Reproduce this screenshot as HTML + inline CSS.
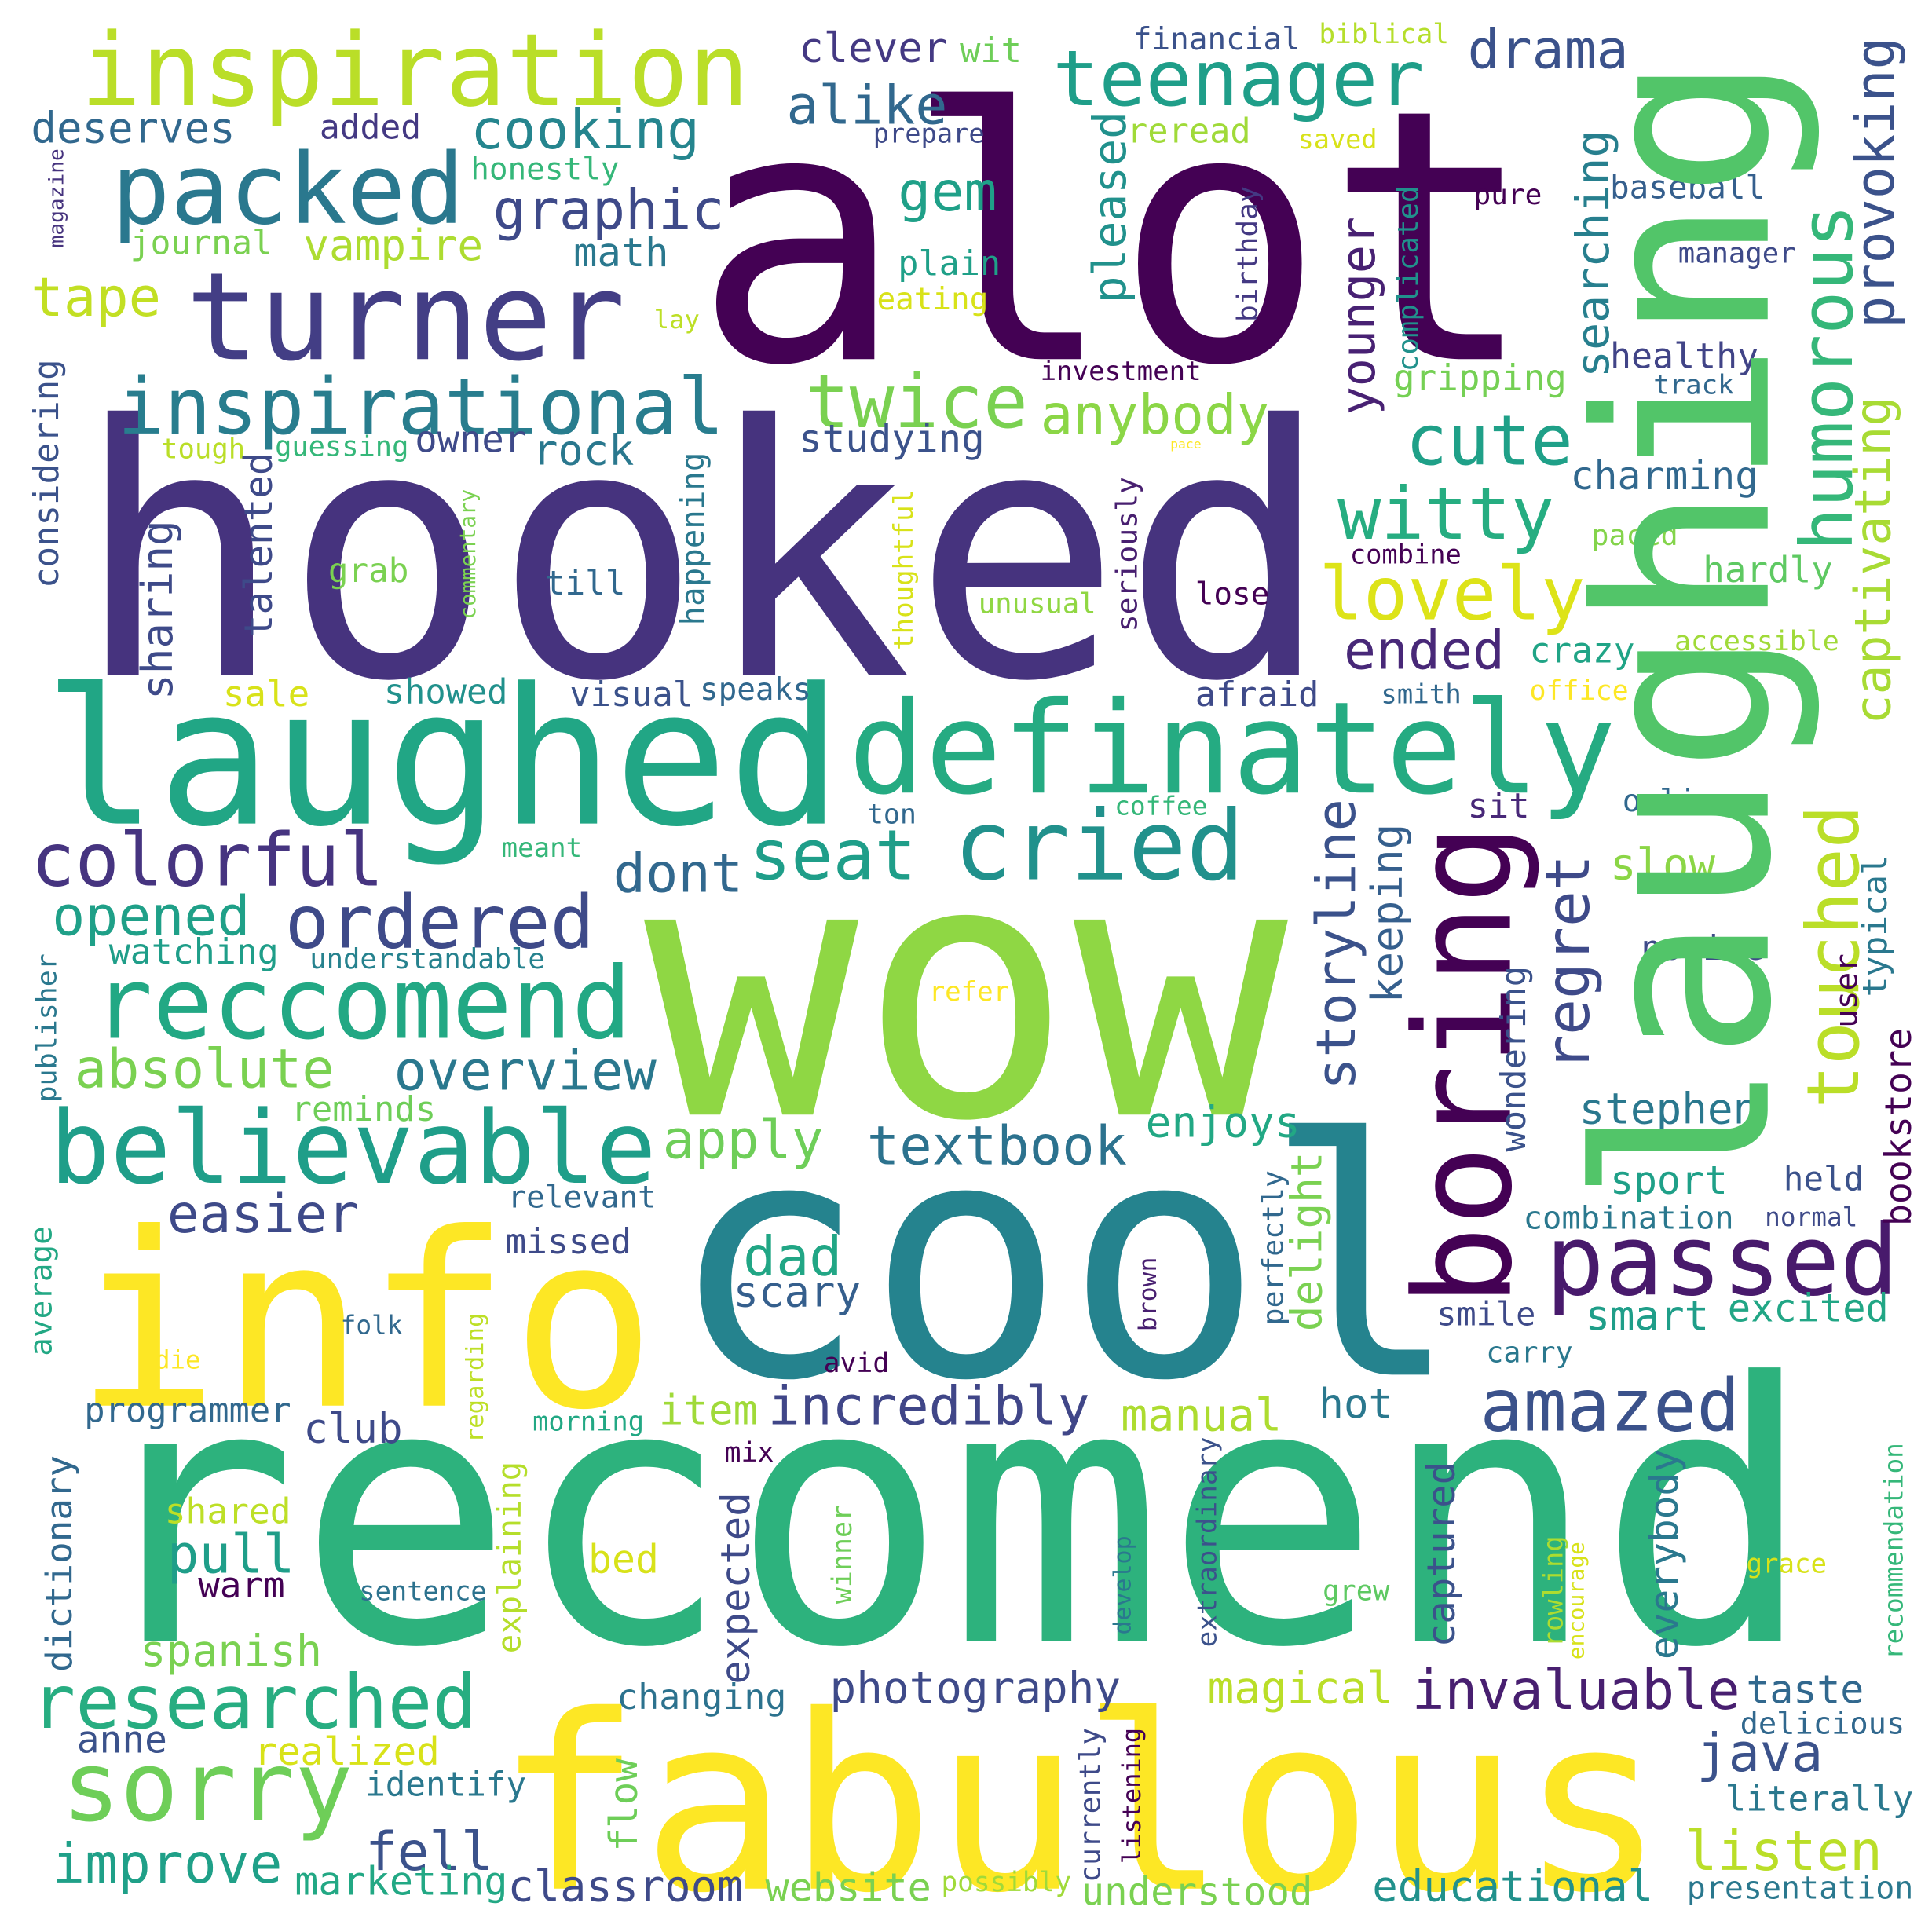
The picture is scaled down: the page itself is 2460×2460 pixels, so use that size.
<!DOCTYPE html>
<html>
<head>
<meta charset="utf-8">
<style>
html,body{margin:0;padding:0;background:#fff;}
svg{display:block;}
text{font-family:"DejaVu Sans Mono","Liberation Mono",monospace;}
</style>
</head>
<body>
<svg id="cloud" width="2460" height="2460" viewBox="0 0 1560 1560" xmlns="http://www.w3.org/2000/svg">
<rect width="1560" height="1560" fill="#fff"/>
</svg>
<script>
// horizontal words: [word, left x, baseline y, width, color]
const hWords = [
["alot",560,290,680,"#440154"],
["hooked",60,545,1015,"#46337e"],
["wow",520,900,520,"#8fd744"],
["cool",540,1110,640,"#25838e"],
["recomend",65,1325,1400,"#2db27d"],
["fabulous",400,1525,945,"#fde725"],
["info",60,1135,470,"#fde725"],
["laughed",35,665,645,"#21a685"],
["definately",685,640,620,"#25ab82"],
["inspiration",65,85,540,"#bade28"],
["packed",90,180,285,"#2a788e"],
["turner",150,290,355,"#433e85"],
["inspirational",95,350,490,"#287d8e"],
["teenager",850,85,300,"#1f9e89"],
["cooking",380,120,185,"#25858e"],
["graphic",398,185,187,"#3e4a89"],
["drama",1185,55,130,"#3b528b"],
["alike",635,100,130,"#31688e"],
["gem",725,170,80,"#1fa088"],
["clever",645,50,120,"#443983"],
["wit",775,50,50,"#6ece58"],
["financial",915,40,135,"#3b528b"],
["biblical",1065,35,105,"#b5de2b"],
["deserves",25,115,165,"#31688e"],
["added",258,112,82,"#443983"],
["prepare",705,115,90,"#3e4a89"],
["reread",910,115,100,"#a0da39"],
["saved",1048,120,64,"#d8e219"],
["honestly",380,145,120,"#35b779"],
["journal",105,205,115,"#7ad151"],
["vampire",245,210,145,"#addc30"],
["math",463,215,77,"#2a788e"],
["plain",725,222,83,"#1fa088"],
["eating",708,250,90,"#d8e219"],
["tape",25,255,105,"#c2df23"],
["lay",528,265,37,"#bddf26"],
["pure",1190,165,55,"#440154"],
["baseball",1300,160,125,"#355f8d"],
["manager",1355,212,95,"#3e4a89"],
["investment",840,307,130,"#440154"],
["healthy",1300,297,120,"#414487"],
["track",1335,318,65,"#31688e"],
["gripping",1125,315,140,"#75d054"],
["twice",650,345,180,"#7ad151"],
["anybody",840,350,185,"#8bd646"],
["cute",1135,375,135,"#1fa088"],
["owner",335,365,90,"#3e4a89"],
["rock",430,375,82,"#2a788e"],
["studying",645,365,150,"#3b528b"],
["guessing",222,368,108,"#35b779"],
["tough",130,370,68,"#bade28"],
["pace",945,362,25,"#fde725"],
["charming",1268,395,152,"#31688e"],
["witty",1080,435,175,"#26ad81"],
["paced",1285,440,70,"#84d44b"],
["combine",1090,455,90,"#440154"],
["grab",265,470,65,"#7ad151"],
["till",440,480,65,"#31688e"],
["unusual",790,495,95,"#90d743"],
["lose",965,488,60,"#440154"],
["hardly",1375,470,105,"#5ec962"],
["lovely",1065,500,215,"#dde318"],
["ended",1085,540,130,"#482878"],
["crazy",1235,535,85,"#20a486"],
["accessible",1352,525,133,"#a0da39"],
["sale",180,570,70,"#d8e219"],
["showed",310,568,100,"#21918c"],
["visual",460,570,100,"#3b528b"],
["speaks",565,565,90,"#31688e"],
["afraid",965,570,100,"#3e4a89"],
["smith",1115,568,65,"#31688e"],
["office",1235,565,80,"#fde725"],
["colorful",25,715,285,"#463480"],
["seat",605,710,135,"#1f9e89"],
["cried",770,710,235,"#21918c"],
["dont",495,720,105,"#31688e"],
["ordered",230,765,250,"#3e4a89"],
["opened",42,755,160,"#1fa088"],
["online",1310,655,90,"#31688e"],
["sit",1185,660,50,"#482878"],
["ton",700,665,40,"#31688e"],
["coffee",900,658,75,"#35b779"],
["meant",405,692,65,"#35b779"],
["slow",1300,710,85,"#8bd646"],
["novice",1325,775,100,"#3e4a89"],
["watching",88,778,137,"#1f9e89"],
["understandable",250,782,190,"#26828e"],
["refer",750,808,65,"#fde725"],
["reccomend",75,838,435,"#22a884"],
["absolute",60,878,210,"#7ad151"],
["overview",318,880,212,"#2a788e"],
["believable",40,955,490,"#1f9e89"],
["reminds",235,905,117,"#6ece58"],
["apply",535,935,130,"#6ece58"],
["textbook",700,940,210,"#2c728e"],
["enjoys",925,918,125,"#22a884"],
["stephen",1275,907,145,"#2a788e"],
["easier",135,995,155,"#3e4a89"],
["relevant",410,975,120,"#31688e"],
["missed",408,1012,102,"#3e4a89"],
["dad",600,1030,80,"#21a685"],
["scary",592,1055,103,"#355f8d"],
["passed",1248,1045,285,"#481a6c"],
["sport",1300,964,95,"#1fa088"],
["held",1440,961,65,"#3b528b"],
["combination",1230,992,170,"#2a788e"],
["normal",1425,990,75,"#3e4a89"],
["folk",275,1077,50,"#31688e"],
["smile",1160,1070,80,"#3e4a89"],
["amazed",1195,1155,210,"#3b528b"],
["die",125,1105,37,"#fde725"],
["avid",665,1108,53,"#440154"],
["carry",1200,1100,70,"#2a788e"],
["smart",1280,1074,100,"#1f9e89"],
["excited",1395,1067,130,"#21a685"],
["programmer",68,1148,167,"#31688e"],
["morning",430,1155,90,"#22a884"],
["item",532,1150,80,"#a0da39"],
["incredibly",620,1150,260,"#404688"],
["manual",905,1155,130,"#addc30"],
["hot",1065,1145,60,"#2a788e"],
["club",245,1165,80,"#3e4a89"],
["mix",585,1180,40,"#440154"],
["shared",133,1230,102,"#bddf26"],
["pull",135,1270,103,"#1f9e89"],
["bed",475,1270,57,"#d8e219"],
["warm",160,1290,70,"#440154"],
["sentence",290,1292,103,"#2c728e"],
["grace",1410,1270,65,"#d8e219"],
["grew",1068,1292,54,"#5ec962"],
["spanish",113,1345,147,"#7ad151"],
["researched",25,1395,360,"#27ad81"],
["changing",498,1380,137,"#2c728e"],
["photography",670,1375,235,"#3e4a89"],
["magical",975,1375,150,"#bade28"],
["invaluable",1140,1380,265,"#481f70"],
["taste",1410,1375,95,"#31688e"],
["anne",62,1415,73,"#3b528b"],
["realized",205,1425,150,"#d8e219"],
["java",1370,1430,102,"#3b528b"],
["delicious",1405,1400,133,"#31688e"],
["sorry",50,1470,235,"#6ece58"],
["identify",295,1450,130,"#2a788e"],
["literally",1393,1462,152,"#2a788e"],
["improve",42,1520,186,"#1fa088"],
["fell",295,1510,103,"#3b528b"],
["listen",1360,1510,160,"#bade28"],
["marketing",238,1530,172,"#22a884"],
["classroom",410,1535,190,"#3e4a89"],
["website",618,1535,134,"#7ad151"],
["possibly",760,1527,105,"#a0da39"],
["understood",873,1538,187,"#7ad151"],
["educational",1108,1535,227,"#21918c"],
["presentation",1362,1533,183,"#2a788e"]
];
// vertical words (read bottom to top): [word, column left x, bottom y, top y, color]
const vWords = [
["laughing",1277,972,44,"#52c569"],
["boring",1135,1055,665,"#440154"],
["magazine",38,200,120,"#46337e"],
["pleased",880,245,90,"#21918c"],
["younger",1080,335,175,"#482173"],
["searching",1270,305,105,"#277f8e"],
["provoking",1495,265,30,"#3b528b"],
["humorous",1450,445,165,"#35b779"],
["birthday",997,260,150,"#443983"],
["complicated",1127,300,150,"#21918c"],
["considering",25,475,290,"#3b528b"],
["seriously",900,510,385,"#481f70"],
["thoughtful",720,525,395,"#d8e219"],
["happening",548,505,365,"#2a788e"],
["talented",195,515,365,"#3e4a89"],
["sharing",112,565,420,"#3e4a89"],
["commentary",370,500,395,"#7ad151"],
["captivating",1495,585,320,"#a8db34"],
["storyline",1060,880,645,"#3b528b"],
["keeping",1105,810,665,"#355f8d"],
["regret",1245,865,690,"#3e4a89"],
["touched",1455,895,650,"#bade28"],
["typical",1502,805,690,"#2a788e"],
["user",1480,830,770,"#440154"],
["wondering",1210,930,780,"#3b528b"],
["publisher",28,890,770,"#2a788e"],
["bookstore",1520,990,830,"#440154"],
["perfectly",1018,1070,945,"#31688e"],
["delight",1040,1075,930,"#7ad151"],
["average",22,1095,990,"#22a884"],
["brown",918,1075,1015,"#481f70"],
["regarding",375,1165,1060,"#bddf26"],
["dictionary",35,1350,1175,"#31688e"],
["explaining",400,1335,1180,"#b5de2b"],
["extraordinary",965,1330,1160,"#3b528b"],
["everybody",1330,1340,1170,"#2a788e"],
["captured",1150,1330,1180,"#3b528b"],
["expected",580,1360,1205,"#3e4a89"],
["winner",670,1295,1215,"#6ece58"],
["develop",898,1320,1240,"#2a788e"],
["recommendation",1520,1340,1165,"#35b779"],
["rowling",1245,1330,1240,"#addc30"],
["encourage",1265,1340,1245,"#d8e219"],
["currently",870,1520,1395,"#3e4a89"],
["listening",905,1505,1395,"#440154"],
["flow",490,1495,1420,"#6ece58"]
];
const NS = "http://www.w3.org/2000/svg";
const svg = document.getElementById("cloud");
function sizeFor(word, len){ return len / (0.602 * word.length); }
hWords.forEach(function(w){
  const s = sizeFor(w[0], w[3]);
  const t = document.createElementNS(NS, "text");
  t.setAttribute("x", w[1]);
  t.setAttribute("y", w[2]);
  t.setAttribute("font-size", s.toFixed(2));
  t.setAttribute("fill", w[4]);
  t.setAttribute("textLength", w[3]);
  t.setAttribute("lengthAdjust", "spacingAndGlyphs");
  t.textContent = w[0];
  
  
  svg.appendChild(t);
});
vWords.forEach(function(w){
  const len = w[2] - w[3];
  const s = sizeFor(w[0], len);
  const bx = w[1] + 0.78 * s;
  const by = w[2];
  const t = document.createElementNS(NS, "text");
  t.setAttribute("x", bx.toFixed(2));
  t.setAttribute("y", by);
  t.setAttribute("font-size", s.toFixed(2));
  t.setAttribute("fill", w[4]);
  t.setAttribute("textLength", len);
  t.setAttribute("lengthAdjust", "spacingAndGlyphs");
  t.setAttribute("transform", "rotate(-90 " + bx.toFixed(2) + " " + by + ")");
  t.textContent = w[0];
  
  
  svg.appendChild(t);
});
</script>
</body>
</html>
